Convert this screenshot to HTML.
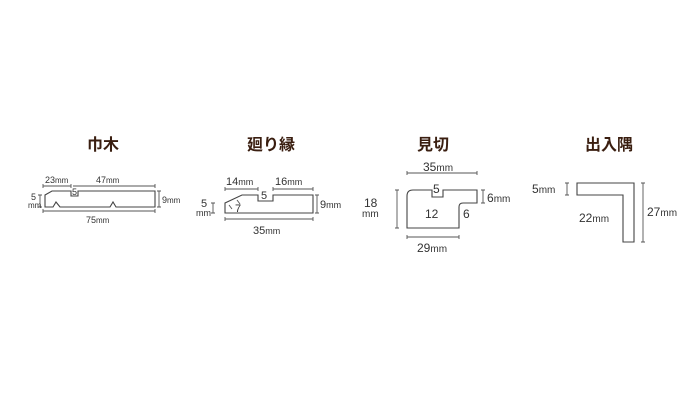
<!DOCTYPE html>
<html><head><meta charset="utf-8"><style>
html,body{margin:0;padding:0;background:#fff;}
svg{display:block;}
.t{font-family:"Liberation Sans","Noto Sans CJK JP",sans-serif;font-weight:bold;font-size:16px;fill:#3a1e10;text-anchor:middle;}
.d{font-family:"Liberation Sans",sans-serif;font-size:11px;fill:#333;}
.s{font-size:8px;}
.sh{fill:none;stroke:#444;stroke-width:1.1;}
.l{stroke:#555;stroke-width:0.9;fill:none;}
</style></head><body>
<svg width="700" height="400" viewBox="0 0 700 400" xmlns="http://www.w3.org/2000/svg">
<rect width="700" height="400" fill="#fff"/>
<text class="t" x="103" y="150">巾木</text>
<text class="t" x="271" y="150">廻り縁</text>
<text class="t" x="433" y="150">見切</text>
<text class="t" x="609" y="150">出入隅</text>

<!-- 巾木 -->
<path class="sh" d="M45,195 L52,191 L71,191 L71,196 L78,196 L78,191 L155,191 L155,207 L116,207 L113,202 L110,207 L60,207 L56,202 L53,207 L45,207 Z"/>
<path class="l" d="M43,186 H71 M43,184 V188 M71,184 V188 M73,186 H155 M155,184 V188 M43,211 H155 M43,209 V213 M155,209 V213 M159,191 V207 M157,191 H161 M157,207 H161 M40,195 V207 M38,195 H42 M38,207 H42"/>
<text class="d" x="45" y="183" style="font-size:9px">23<tspan class="s">mm</tspan></text>
<text class="d" x="96" y="183" style="font-size:9px">47<tspan class="s">mm</tspan></text>
<text class="d" x="72" y="195" style="font-size:9px">5</text>
<text class="d" x="86" y="223" style="font-size:9px">75<tspan class="s">mm</tspan></text>
<text class="d" x="162" y="203" style="font-size:9px">9<tspan class="s">mm</tspan></text>
<text class="d" x="31" y="200" style="font-size:9px">5</text>
<text class="d s" x="28" y="208">mm</text>

<!-- 廻り縁 -->
<path class="sh" d="M225,213 L225,203 L242,195 L258,195 L258,201 L273,201 L273,195 L313,195 L313,213 Z"/>
<path class="l" d="M229,205 L232,209 M237,200 L240,204 M225,189 H258 M225,187 V191 M258,187 V191 M273,189 H313 M313,187 V191 M273,187 V191 M225,219 H313 M225,217 V221 M313,217 V221 M317,195 V213 M315,195 H319 M315,213 H319 M213,203 V213 M211,203 H215 M211,213 H215"/>
<text class="d" x="226" y="185">14<tspan class="s" style="font-size:9px">mm</tspan></text>
<text class="d" x="275" y="185">16<tspan class="s" style="font-size:9px">mm</tspan></text>
<text class="d" x="261" y="199">5</text>
<text class="d" x="235" y="212">7</text>
<text class="d" x="253" y="234">35<tspan class="s" style="font-size:9px">mm</tspan></text>
<text class="d" x="320" y="208">9<tspan class="s" style="font-size:9px">mm</tspan></text>
<text class="d" x="201" y="207">5</text>
<text class="d" x="196" y="216" style="font-size:9px">mm</text>

<!-- 見切 -->
<path class="sh" d="M407,228 L407,196 Q407,190 413,190 L432,190 L432,197 L443,197 L443,190 L477,190 L477,203 L463,203 Q459,203 459,207 L459,228 Z"/>
<path class="l" d="M407,173 H477 M407,171 V175 M477,171 V175 M397,190 V228 M395,190 H399 M395,228 H399 M483,190 V203 M481,190 H485 M481,203 H485 M407,237 H459 M407,235 V239 M459,235 V239"/>
<text class="d" x="423" y="171" style="font-size:12px">35<tspan style="font-size:10px">mm</tspan></text>
<text class="d" x="433" y="193" style="font-size:12px">5</text>
<text class="d" x="425" y="218" style="font-size:12px">12</text>
<text class="d" x="463" y="218" style="font-size:12px">6</text>
<text class="d" x="487" y="202" style="font-size:12px">6<tspan style="font-size:10px">mm</tspan></text>
<text class="d" x="364" y="207" style="font-size:12px">18</text>
<text class="d" x="362" y="217" style="font-size:10px">mm</text>
<text class="d" x="417" y="252" style="font-size:12px">29<tspan style="font-size:10px">mm</tspan></text>

<!-- 出入隅 -->
<path class="sh" d="M577,183 L634,183 L634,242 L623,242 L623,195 L577,195 Z"/>
<path class="l" d="M567,183 V195 M565,183 H569 M565,195 H569 M643,183 V242 M641,183 H645 M641,242 H645"/>
<text class="d" x="532" y="193" style="font-size:12px">5<tspan style="font-size:10px">mm</tspan></text>
<text class="d" x="579" y="222" style="font-size:12px">22<tspan style="font-size:10px">mm</tspan></text>
<text class="d" x="647" y="216" style="font-size:12px">27<tspan style="font-size:10px">mm</tspan></text>
</svg>
</body></html>
